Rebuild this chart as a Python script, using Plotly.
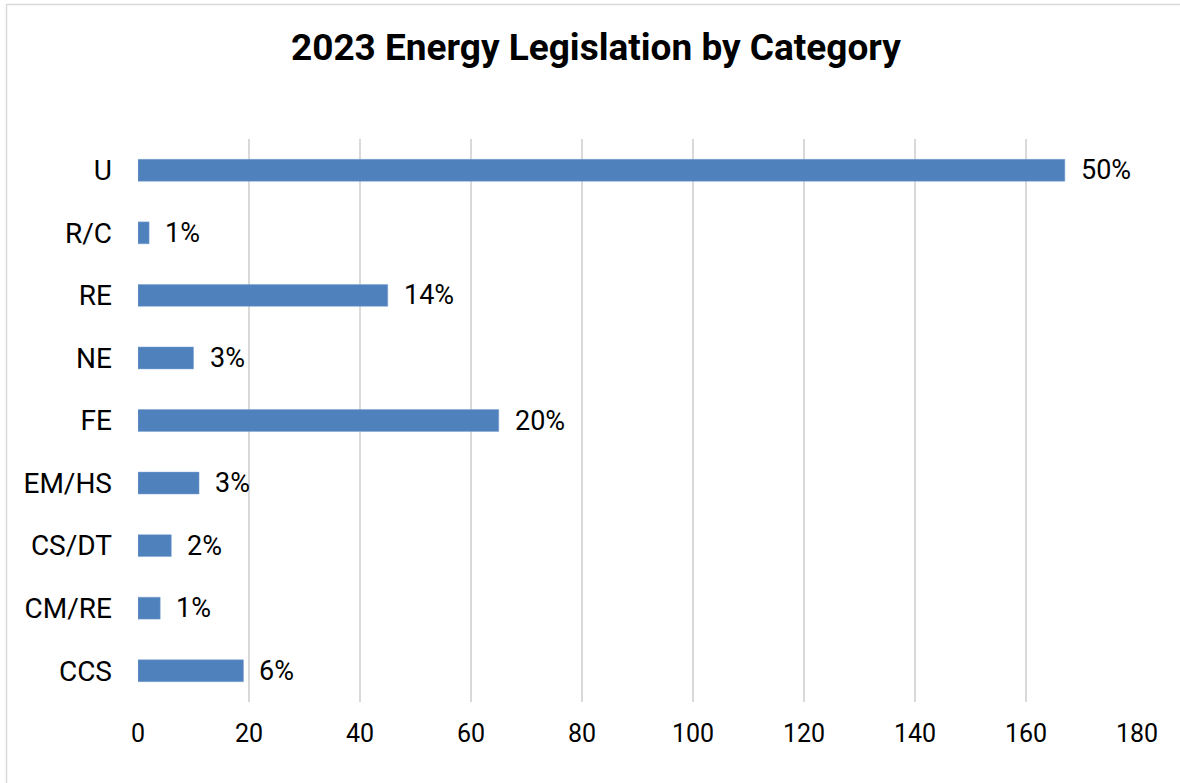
import plotly.graph_objects as go

categories = ["U", "R/C", "RE", "NE", "FE", "EM/HS", "CS/DT", "CM/RE", "CCS"]
counts = [167, 2, 45, 10, 65, 11, 6, 4, 19]
pct_labels = ["50%", "1%", "14%", "3%", "20%", "3%", "2%", "1%", "6%"]
x_ticks = [0, 20, 40, 60, 80, 100, 120, 140, 160, 180]

W, H = 1180, 783
L, R, T, B = 138, 43, 139, 81

fig = go.Figure()
fig.add_trace(go.Bar(
    y=categories, x=counts, orientation="h",
    marker=dict(color="#4F81BD", line=dict(color="#7FA3D0", width=0.5)),
    width=0.35, hoverinfo="x+y",
))

for c, v, t in zip(categories, counts, pct_labels):
    fig.add_annotation(x=v, y=c, text=t, showarrow=False, xanchor="left",
                       xshift=14, font=dict(family="Roboto", size=27, color="#000000"))

pw = W - L - R
ph = H - T - B
fig.add_shape(type="rect", xref="paper", yref="paper",
              x0=(6.5 - L) / pw, x1=(W + 5 - L) / pw,
              y0=-(H + 5 - T - ph) / ph, y1=1 + (T - 4.5) / ph,
              line=dict(color="#D9D9D9", width=1.5), layer="below")

fig.update_layout(
    width=W, height=H,
    margin=dict(l=L, r=R, t=T, b=B),
    paper_bgcolor="white", plot_bgcolor="white",
    title=dict(text="<b>2023 Energy Legislation by Category</b>", x=0.505, xanchor="center",
               y=1 - 47 / H, yanchor="middle",
               font=dict(family="Roboto", size=37, color="#000000")),
    font=dict(family="Roboto", size=27, color="#000000"),
    showlegend=False,
    bargap=0.65,
)
fig.update_xaxes(range=[0, 180], tickvals=x_ticks, showgrid=True, gridcolor="#D9D9D9",
                 gridwidth=1.5, zeroline=False, showline=False, ticks="",
                 ticklabelstandoff=14, tickfont=dict(size=25))
fig.update_yaxes(categoryorder="array", categoryarray=categories[::-1], showgrid=False,
                 zeroline=False, showline=False, ticks="", ticklabelstandoff=25,
                 tickfont=dict(size=28))

fig.write_html("out.html")
